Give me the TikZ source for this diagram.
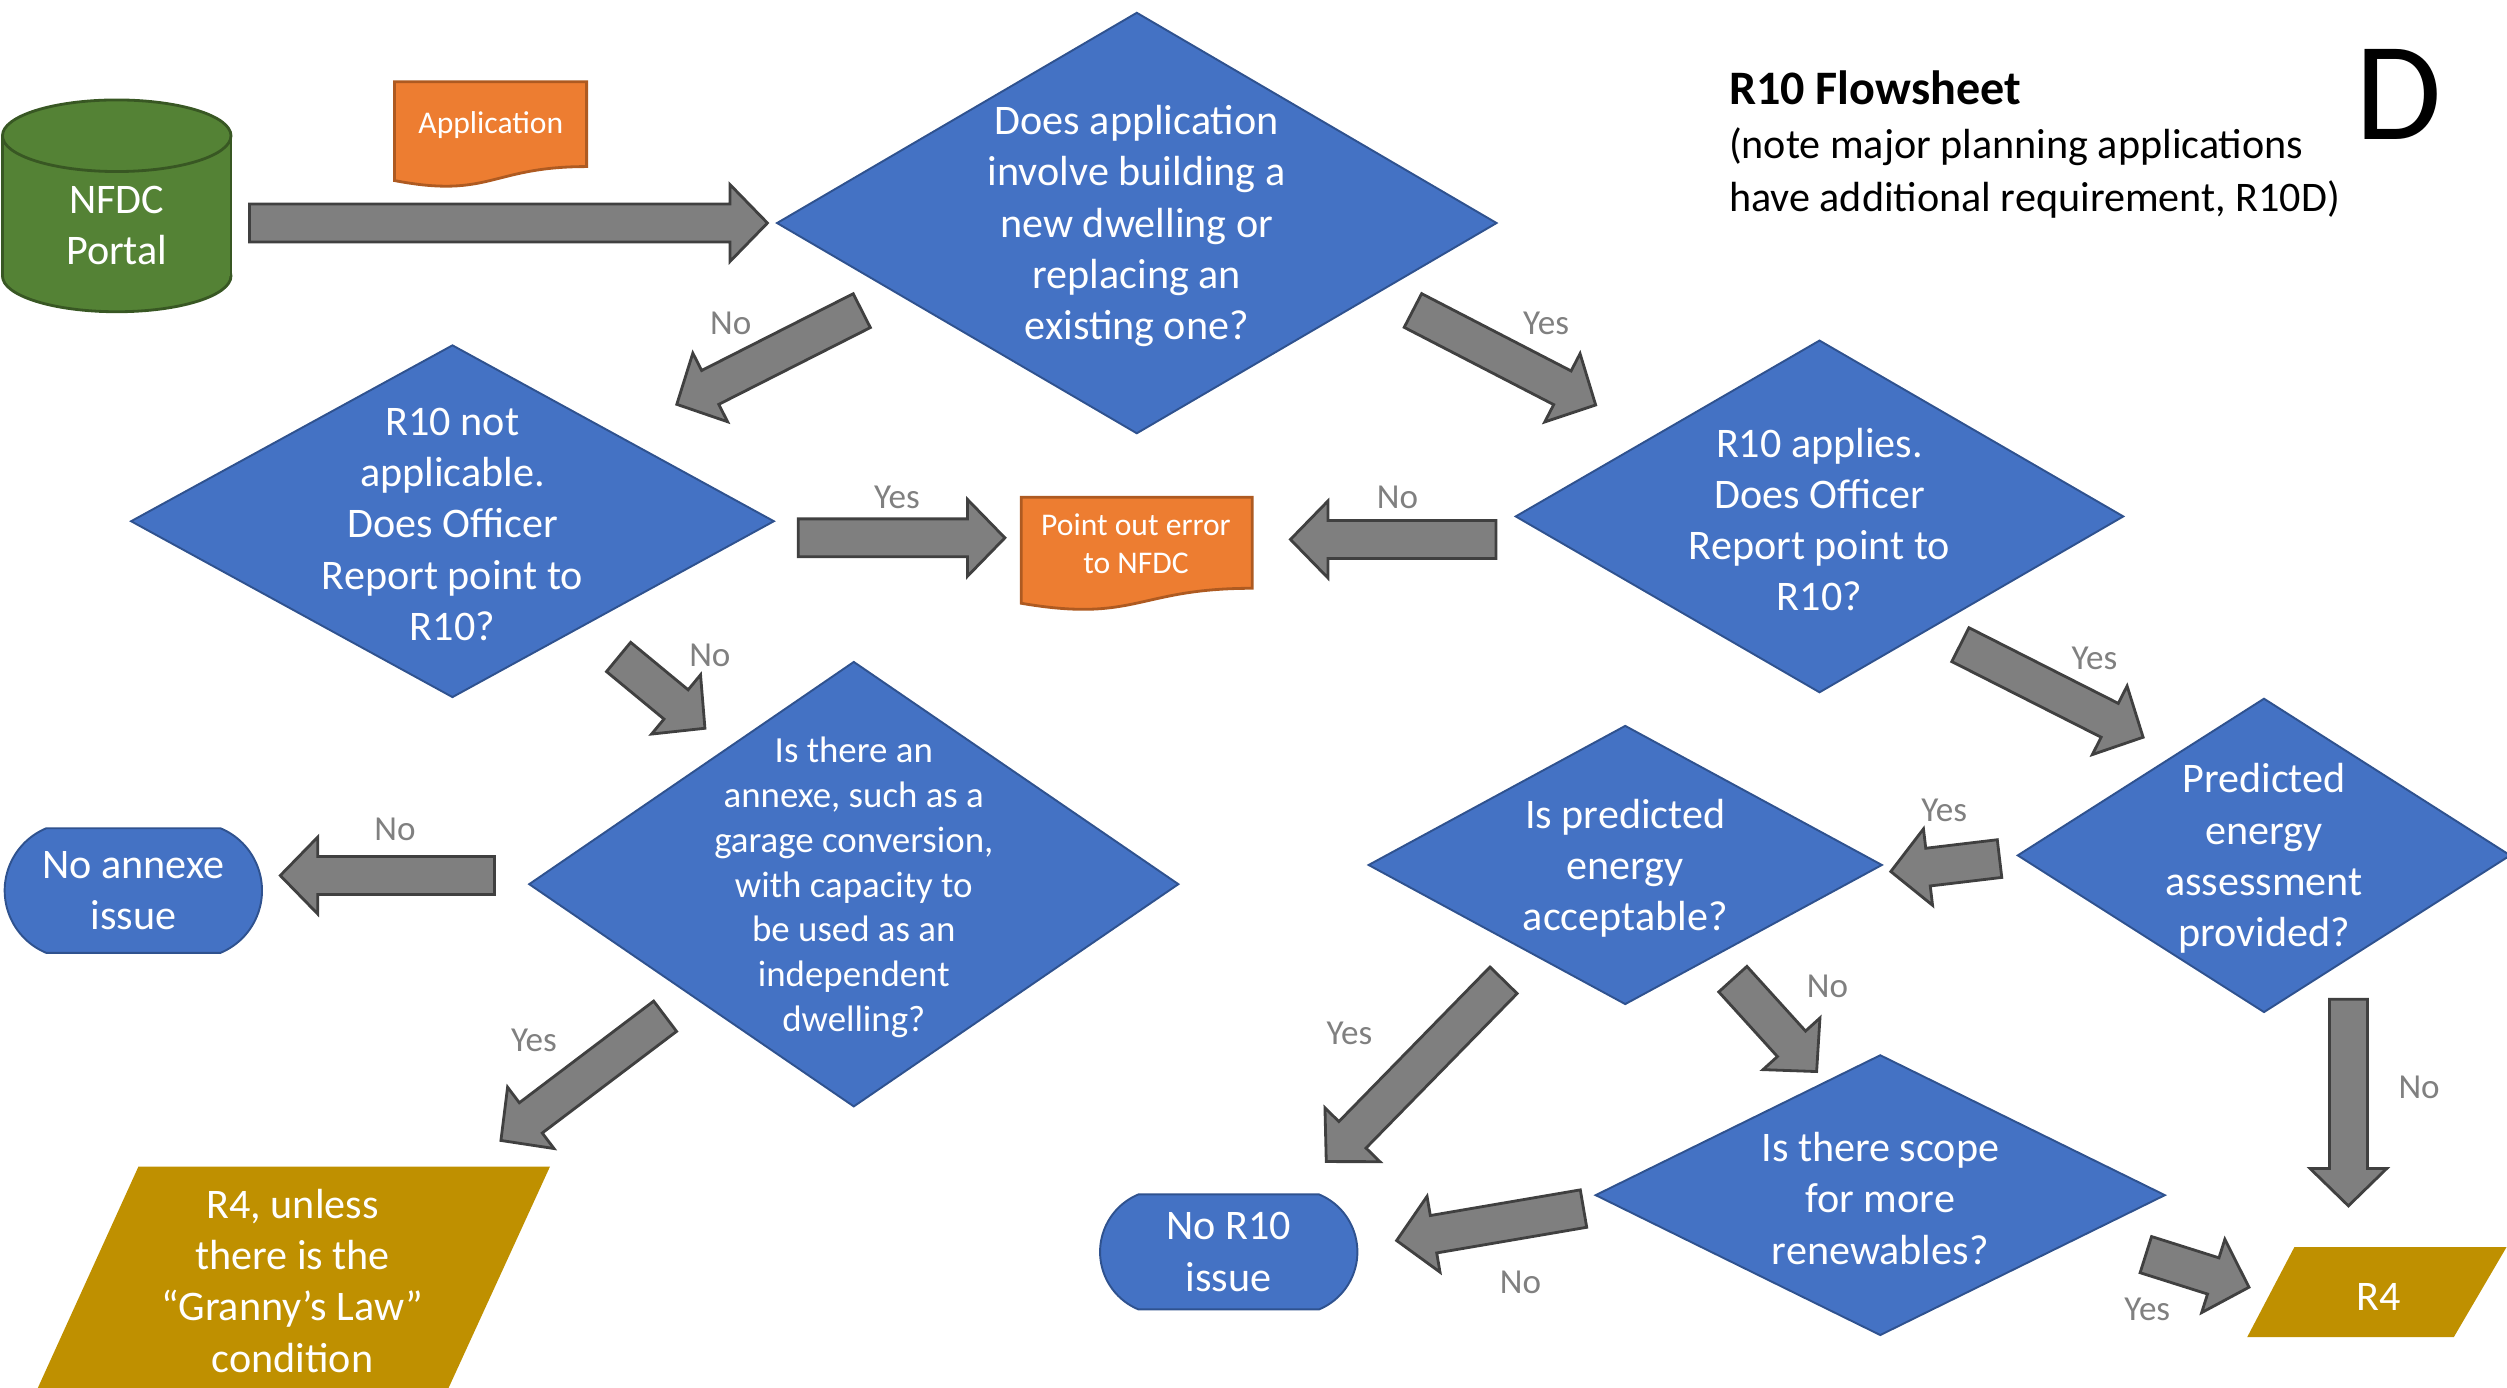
\documentclass[tikz,border=0pt]{standalone}
\usepackage{fontspec}
\setmainfont{Carlito}
\usetikzlibrary{calc, shapes.misc}

\begin{document}
\begin{tikzpicture}[
    x=0.016cm, y=-0.016cm,
    every node/.style={inner sep=0pt},
    dectext/.style={text=white, align=center, font=\fontsize{12}{14.6}\selectfont},
    smalltext/.style={text=white, align=center, font=\fontsize{10.5}{12.75}\selectfont},
    doctext/.style={text=white, align=center, font=\fontsize{9}{10.9}\selectfont},
    answer/.style={text=answergray, font=\fontsize{10}{12}\selectfont},
    endbox/.style={rounded rectangle, rounded rectangle arc length=135,
        fill=decfill, draw=decline, line width=0.55pt, minimum width=2.576cm,
        text=white, align=center, font=\fontsize{12}{14.6}\selectfont},
    arrowbody/.style={fill=arrowfill, draw=arrowline, line width=0.8pt, line join=miter},
]

\definecolor{decfill}{HTML}{4472C4}     % the questions
\definecolor{decline}{HTML}{2F528F}
\definecolor{docfill}{HTML}{ED7D31}     % paper going in and out
\definecolor{docline}{HTML}{AE5A21}
\definecolor{portalfill}{HTML}{548235}
\definecolor{portalline}{HTML}{385723}
\definecolor{rfourfill}{HTML}{BF9000}
\definecolor{arrowfill}{HTML}{7F7F7F}
\definecolor{arrowline}{HTML}{404040}
\definecolor{answergray}{HTML}{808080}

\def\shaftw{0.19cm}   % half the shaft of a block arrow
\def\headw{0.385cm}   % half the head
\def\headl{0.375cm}   % head length

% ================================================================
% One unit = 0.016cm, y runs downwards, so the page is 1568 x 868.
%
%   x =  0..160    portal, no-annexe end, granny box
%   x = 480..940   first question, error sheet
%   x = 850..1568  the R10 branch
% Questions are drawn from centre and half sizes; every block
% arrow is a polygon between a tail point and a tip point.
% ================================================================

\newcommand{\decision}[7]{% #1 name, #2 x, #3 y, #4 half width, #5 half height, #6 text style, #7 text
  \filldraw[fill=decfill, draw=decline, line width=0.55pt]
      (#2-#4, #3) -- (#2, #3-#5) -- (#2+#4, #3) -- (#2, #3+#5) -- cycle;
  \node[#6] (#1) at (#2, #3+2) {#7};
}

\newcommand{\docshape}[4]{% #1 left, #2 right, #3 top, #4 height
  \filldraw[fill=docfill, draw=docline, line width=0.8pt]
      (#1, #3) -- (#2, #3) -- (#2, #3+0.802*#4)
      .. controls ({(#1+#2)/2}, #3+0.802*#4) and ({(#1+#2)/2}, #3+1.1075*#4) ..
      (#1, #3+0.934*#4) -- cycle;
}

\newcommand{\flowarrow}[3]{% #1 name, #2 tail, #3 tip
  \coordinate (#1-t) at (#2);
  \coordinate (#1-h) at (#3);
  \coordinate (#1-b) at ($(#1-h)!\headl!(#1-t)$);
  \draw[arrowbody]
      ($(#1-t)!\shaftw!90:(#1-h)$) -- ($(#1-b)!\shaftw!90:(#1-h)$) --
      ($(#1-b)!\headw!90:(#1-h)$) -- (#1-h) --
      ($(#1-b)!\headw!-90:(#1-h)$) -- ($(#1-b)!\shaftw!-90:(#1-h)$) --
      ($(#1-t)!\shaftw!-90:(#1-h)$) -- cycle;
}

\useasboundingbox (0,0) rectangle (1568,868);

% ---------------------------------------------------------------- portal
\filldraw[fill=portalfill, draw=portalline, line width=0.8pt]
    (73,172.6) ellipse [x radius=1.144cm, y radius=0.3584cm];
\fill[portalfill] (1.5,84.9) rectangle (144.5,172.6);
\draw[portalline, line width=0.8pt] (1.5,84.9) -- (1.5,172.6) (144.5,84.9) -- (144.5,172.6);
\filldraw[fill=portalfill, draw=portalline, line width=0.8pt]
    (73,84.9) ellipse [x radius=1.144cm, y radius=0.3584cm];
\node[dectext] (portal) at (73,141) {NFDC\\Portal};

% ---------------------------------------------------------------- sheets
\docshape{246.7}{366.9}{51.1}{66.2}
\node[doctext] (application) at (307,78) {Application};
\docshape{638.7}{783.2}{311}{71}
\node[doctext] (pointerror) at (710.5,340) {Point out error\\to NFDC};

% ---------------------------------------------------------------- questions
\decision{newdwelling}{711}{139.5}{225}{131.5}{dectext}
    {Does application\\involve building a\\new dwelling or\\replacing an\\existing one?}
\decision{notapplicable}{283}{326}{201}{110}{dectext}
    {R10 not\\applicable.\\Does Officer\\Report point to\\R10?}
\decision{applies}{1138}{323}{190}{110}{dectext}
    {R10 applies.\\Does Officer\\Report point to\\R10?}
\decision{annexe}{534}{553}{203}{139}{smalltext}
    {Is there an\\annexe, such as a\\garage conversion,\\with capacity to\\be used as an\\independent\\dwelling?}
\decision{assessment}{1416}{535}{154}{98}{dectext}
    {Predicted\\energy\\assessment\\provided?}
\decision{acceptable}{1016.5}{541}{160.5}{87}{dectext}
    {Is predicted\\energy\\acceptable?}
\decision{renewables}{1176}{747.5}{178}{87.5}{dectext}
    {Is there scope\\for more\\renewables?}

% ---------------------------------------------------------------- outcomes
\node[endbox, minimum height=1.248cm] (noannexe) at (83.4,557) {No annexe\\issue};
\node[endbox, minimum height=1.152cm] (noissue) at (768.5,783) {No R10\\issue};

\fill[rfourfill] (86.6,729.6) -- (344,729.6) -- (280.6,868) -- (23.7,868) -- cycle;
\node[dectext] (granny) at (183,801) {R4, unless\\there is the\\“Granny’s Law”\\condition};
\fill[rfourfill] (1435,780) -- (1567.7,780) -- (1534.7,836.3) -- (1405.5,836.3) -- cycle;
\node[dectext] (rfour) at (1487.8,811) {R4};

% ---------------------------------------------------------------- block arrows
\flowarrow{portal-in}{156,139.5}{480,139.5}
\flowarrow{new-no}{539,194.3}{423.3,252.9}
\flowarrow{new-yes}{883.7,194.2}{998,253.3}
\flowarrow{na-yes}{499.3,336.4}{628.5,336.4}
\flowarrow{ap-no}{935.7,337.4}{807.1,337.4}
\flowarrow{na-no}{386.9,410.9}{440.9,455.5}
\flowarrow{ap-yes}{1226.1,403.2}{1340.4,461.1}
\flowarrow{an-no}{309.3,547.6}{175.3,547.6}
\flowarrow{an-yes}{416,635.6}{313.3,713.3}
\flowarrow{as-yes}{1250.6,537}{1182.6,545.1}
\flowarrow{as-no}{1468.8,625}{1468.8,754.2}
\flowarrow{ac-yes}{940.4,613.1}{829.5,726.5}
\flowarrow{ac-no}{1083.8,612.4}{1136.2,670.2}
\flowarrow{re-no}{990.4,755.9}{873.5,775.9}
\flowarrow{re-yes}{1342.1,784.7}{1406.6,805.1}

% ---------------------------------------------------------------- answers
\foreach \txt/\x/\y [count=\i] in {No/457/202, Yes/967/202, Yes/561/311, No/874/311,
    No/444/410, Yes/1310/412, Yes/1216/507, No/247/519, No/1143/617, Yes/844/646,
    Yes/334/651, No/1513/680, No/951/802, Yes/1343/819} {
  \node[answer] (answer\i) at (\x,\y) {\txt};
}

% ---------------------------------------------------------------- heading
% base of a multi-line node sits on its last line
\node[anchor=base west, align=left, font=\fontsize{12}{15.2}\selectfont] (title)
    at (1081,132.3) {{\fontsize{13.7}{15.2}\selectfont\bfseries R10 Flowsheet}\\
    (note major planning applications\\have additional requirement, R10D)};
\node[anchor=base, font=\fontsize{40}{48}\selectfont] (sheet) at (1500,87.5) {D};

\end{tikzpicture}
\end{document}
